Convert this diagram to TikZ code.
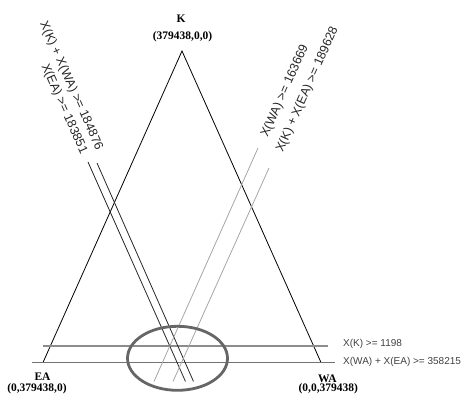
\documentclass[tikz,border=0pt]{standalone}
\usepackage{fontspec}
\usetikzlibrary{shapes.geometric}
\setmainfont{Liberation Serif}
\setsansfont{Liberation Sans}
\begin{document}
\begin{tikzpicture}[x=1pt,y=-1pt,
  tri/.style={black, line width=0.8pt},
  darkc/.style={black!85, line width=0.8pt},
  lightc/.style={black!35, line width=0.8pt},
  hline/.style={black!55, line width=1.3pt},
  vlabel/.style={font=\fontsize{11.5}{12}\selectfont\bfseries, inner sep=0pt},
  clabel/.style={font=\sffamily\fontsize{12.5}{13}\selectfont, text=black!85, inner sep=0pt},
  hlabel/.style={font=\sffamily\fontsize{10}{11}\selectfont, text=black!75, inner sep=0pt, anchor=west},
  oval/.style={black!60, line width=2.8pt}]
\useasboundingbox (0,0) rectangle (464,403);
% vertices
\coordinate (K) at (182,51);
\coordinate (EA) at (43,362.5);
\coordinate (WA) at (321,362.5);
\draw[tri] (EA) -- (K) -- (WA);
% horizontal constraint lines
\coordinate (h1a) at (43,346);
\coordinate (h1b) at (328,346);
\coordinate (h2a) at (32,362.5);
\coordinate (h2b) at (335,362.5);
\draw[hline, black!45] (h1a) -- (h1b);
\draw[hline] (h2a) -- (h2b);
% dark constraint lines (parallel to K--WA)
\coordinate (d1a) at (88,162);
\coordinate (d1b) at (185.5,381.5);
\coordinate (d2a) at (97,163);
\coordinate (d2b) at (193.5,381.5);
\draw[darkc] (d1a) -- (d1b);
\draw[darkc] (d2a) -- (d2b);
% light constraint lines (parallel to K--EA)
\coordinate (l1a) at (258,148);
\coordinate (l1b) at (154,381.5);
\coordinate (l2a) at (269,168);
\coordinate (l2b) at (173,381.5);
\draw[lightc] (l1a) -- (l1b);
\draw[lightc] (l2a) -- (l2b);
% ellipse
\node[oval, draw, ellipse, minimum width=100pt, minimum height=64pt, inner sep=0pt] (ov) at (177.5,358.3) {};
% vertex labels
\node[vlabel] (Kn) at (181,18.3) {K};
\node[vlabel] (Kc) at (182.5,36.7) {(379438,0,0)};
\node[vlabel] (EAn) at (42.5,376.7) {EA};
\node[vlabel] (EAc) at (37,388.8) {(0,379438,0)};
\node[vlabel] (WAn) at (327.3,379) {WA};
\node[vlabel] (WAc) at (328.3,389.2) {(0,0,379438)};
% constraint labels
\node[clabel, rotate=-66] (c1) at (71,86) {X(K) + X(WA) >= 184876};
\node[clabel, rotate=-66] (c2) at (64,109) {X(EA) >= 183851};
\node[clabel, rotate=66] (c3) at (285,91) {X(WA) >= 163669};
\node[clabel, rotate=66] (c4) at (307.5,89.5) {X(K) + X(EA) >= 189628};
\node[hlabel] (c5) at (343,344) {X(K) >= 1198};
\node[hlabel] (c6) at (343,362) {X(WA) + X(EA) >= 358215};
\end{tikzpicture}
\end{document}
